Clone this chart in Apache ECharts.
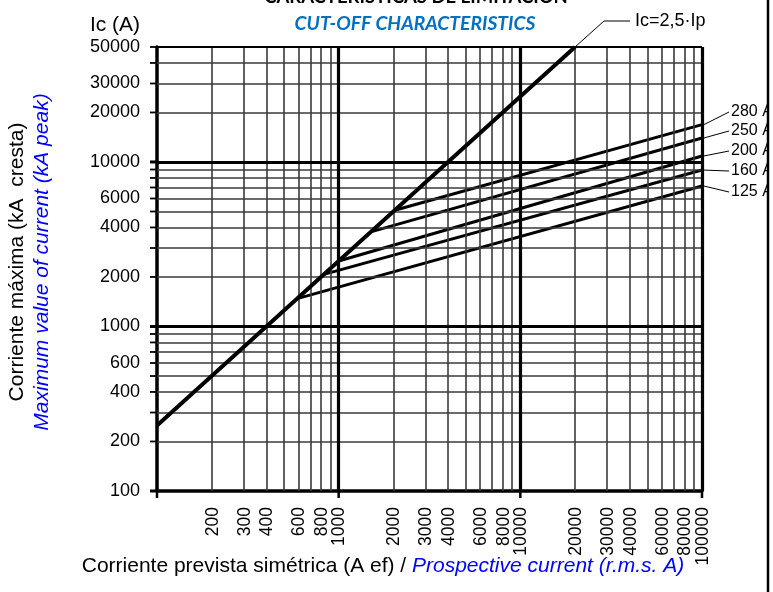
<!DOCTYPE html>
<html>
<head>
<meta charset="utf-8">
<script src="https://cdn.jsdelivr.net/npm/echarts@6/dist/echarts.min.js"></script>
<style>
  html, body { margin: 0; padding: 0; background: #fff; }
  #chart { width: 773px; height: 592px; }
</style>
</head>
<body>
<div id="chart"></div>
<script>
// Fuse cut-off characteristics: peak let-through current vs prospective current
const fuseRatings = ['125 A', '160 A', '200 A', '250 A', '280 A'];
const kneeCurrent = [591, 829, 1000, 1503, 2037];      // A r.m.s., where each curve leaves the 2.5·Ip line
const kneePeak = [1478, 2073, 2500, 3758, 5093];       // A peak at that point
const endCurrent = [100000, 100000, 100000, 100000, 100000];
const endPeak = [7140, 8930, 10880, 14000, 16880];     // A peak at 100 kA prospective
const limitCurrent = [100, 20000];                     // Ic = 2,5·Ip
const limitPeak = [250, 50000];

const xTickLabels = [200, 300, 400, 600, 800, 1000, 2000, 3000, 4000, 6000, 8000, 10000,
  20000, 30000, 40000, 60000, 80000, 100000];
const yTickLabels = [100, 200, 400, 600, 1000, 2000, 4000, 6000, 10000, 20000, 30000, 50000];
const xMinorLines = [200, 300, 400, 500, 600, 700, 800, 900, 2000, 3000, 4000, 5000, 6000, 7000,
  8000, 9000, 20000, 30000, 40000, 50000, 60000, 70000, 80000, 90000];
const xMajorLines = [1000, 10000];
const yMinorLines = [200, 300, 400, 500, 600, 700, 800, 900, 2000, 3000, 4000, 5000, 6000, 7000,
  8000, 9000, 20000, 30000, 40000];
const yMajorLines = [1000, 10000];
const yTickMarks = [100, 200, 300, 400, 500, 600, 700, 800, 900, 1000, 2000, 3000, 4000, 5000,
  6000, 7000, 8000, 9000, 10000, 20000, 30000, 40000, 50000];
const xTickMarks = [100, 1000, 10000, 100000];

const FONT = '"Liberation Sans", Arial, sans-serif';
const TITLE_FONT = 'Lato, "Open Sans", sans-serif';
const labelLayoutY = [192, 171, 151, 131, 112];   // rating labels on the right

const chart = echarts.init(document.getElementById('chart'), null, { renderer: 'canvas' });

const thin = { color: '#3a3a3a', width: 1.6, type: 'solid' };
const thick = { color: '#000', width: 3.2, type: 'solid' };

const gridMarks = []
  .concat(xMinorLines.map(v => ({ xAxis: v, lineStyle: thin })))
  .concat(yMinorLines.map(v => ({ yAxis: v, lineStyle: thin })))
  .concat(xMajorLines.map(v => ({ xAxis: v, lineStyle: thick })))
  .concat(yMajorLines.map(v => ({ yAxis: v, lineStyle: thick })))
  .concat([{ yAxis: 50000, lineStyle: { color: '#000', width: 2, type: 'solid' } },
           { xAxis: 100000, lineStyle: { color: '#000', width: 3.2, type: 'solid' } }]);

const series = [{
  type: 'line',
  data: [],
  silent: true,
  clip: false,
  z: 1,
  markLine: {
    silent: true,
    symbol: ['none', 'none'],
    label: { show: false },
    animation: false,
    lineStyle: { type: 'solid' },
    data: gridMarks
  }
}, {
  name: 'Ic=2,5·Ip',
  type: 'line',
  data: limitCurrent.map((x, i) => [x, limitPeak[i]]),
  showSymbol: false,
  lineStyle: { color: '#000', width: 4 },
  z: 5,
  clip: false
}];

fuseRatings.forEach((name, i) => {
  series.push({
    name,
    type: 'line',
    data: [[kneeCurrent[i], kneePeak[i]], [endCurrent[i], endPeak[i]]],
    showSymbol: false,
    lineStyle: { color: '#000', width: 3 },
    z: 4,
    clip: false
  });
});

chart.setOption({
  animation: false,
  backgroundColor: '#fff',
  grid: { left: 157, right: 71, top: 47, bottom: 101, containLabel: false },
  xAxis: {
    type: 'log', logBase: 10, min: 100, max: 100000,
    axisLine: { show: true, onZero: false, lineStyle: { color: '#000', width: 3.5 } },
    axisTick: { show: false }, axisLabel: { show: false },
    splitLine: { show: false }, minorSplitLine: { show: false }
  },
  yAxis: {
    type: 'log', logBase: 10, min: 100, max: 50000,
    axisLine: { show: true, onZero: false, lineStyle: { color: '#000', width: 3.5 } },
    axisTick: { show: false }, axisLabel: { show: false },
    splitLine: { show: false }, minorSplitLine: { show: false }
  },
  series
});

// Ticks, tick labels, titles and annotations placed through the axes' own scales
const toPx = (x, y) => chart.convertToPixel({ gridIndex: 0 }, [x, y]);
const g = [];

yTickMarks.forEach(v => {
  const p = toPx(100, v);
  const major = v === 1000 || v === 10000 || v === 100;
  g.push({ type: 'line', silent: true, z: 10,
    shape: { x1: p[0] - 7, y1: p[1], x2: p[0], y2: p[1] },
    style: { stroke: '#000', lineWidth: major ? 3 : 1.8 } });
});
yTickLabels.forEach(v => {
  const p = toPx(100, v);
  g.push({ type: 'text', silent: true, z: 10, x: 140, y: p[1],
    style: { text: String(v), font: '18px ' + FONT, fill: '#000', align: 'right', verticalAlign: 'middle' } });
});
xTickMarks.forEach(v => {
  const p = toPx(v, 100);
  g.push({ type: 'line', silent: true, z: 10,
    shape: { x1: p[0], y1: p[1], x2: p[0], y2: p[1] + 7 },
    style: { stroke: '#000', lineWidth: 2.5 } });
});
xTickLabels.forEach(v => {
  const p = toPx(v, 100);
  g.push({ type: 'text', silent: true, z: 10, x: p[0] + 1, y: p[1] + 16, rotation: Math.PI / 2,
    style: { text: String(v), font: '17.5px ' + FONT, fill: '#000', align: 'right', verticalAlign: 'middle' } });
});

// Rating labels with leader lines from the right edge of each curve
fuseRatings.forEach((name, i) => {
  const p = toPx(endCurrent[i], endPeak[i]);
  const ly = labelLayoutY[i];
  g.push({ type: 'polyline', silent: true, z: 10,
    shape: { points: [[p[0] + 2, p[1]], [729, ly]] },
    style: { stroke: '#000', lineWidth: 1, fill: null } });
  g.push({ type: 'text', silent: true, z: 10, x: 731, y: ly,
    style: { text: name, font: '16px ' + FONT, fill: '#000', align: 'left', verticalAlign: 'middle' } });
});

// Leader for the 2,5·Ip line
const limitTop = toPx(limitCurrent[1], limitPeak[1]);
g.push({ type: 'polyline', silent: true, z: 10,
  shape: { points: [[limitTop[0], limitTop[1]], [604, 21], [630, 21]] },
  style: { stroke: '#000', lineWidth: 1, fill: null } });
g.push({ type: 'text', silent: true, z: 10, x: 635, y: 21,
  style: { text: 'Ic=2,5·Ip', font: '18px ' + FONT, fill: '#000', align: 'left', verticalAlign: 'middle' } });

// Titles
g.push({ type: 'text', silent: true, z: 10, x: 416, y: -3,
  style: { text: 'CARACTERISTICAS DE LIMITACION', font: 'bold 18.5px ' + TITLE_FONT, fill: '#000',
    align: 'center', verticalAlign: 'middle' } });
g.push({ type: 'text', silent: true, z: 10, x: 415, y: 23.5,
  style: { text: 'CUT-OFF CHARACTERISTICS', font: 'italic bold 19.3px ' + TITLE_FONT, fill: '#0070c0',
    align: 'center', verticalAlign: 'middle' } });

// Axis names
g.push({ type: 'text', silent: true, z: 10, x: 115, y: 25,
  style: { text: 'Ic (A)', font: '21px ' + FONT, fill: '#000', align: 'center', verticalAlign: 'middle' } });
g.push({ type: 'text', silent: true, z: 10, x: 17, y: 262, rotation: Math.PI / 2,
  style: { text: 'Corriente máxima (kA  cresta)', font: '21px ' + FONT, fill: '#000',
    align: 'center', verticalAlign: 'middle' } });
g.push({ type: 'text', silent: true, z: 10, x: 42, y: 262, rotation: Math.PI / 2,
  style: { text: 'Maximum value of current (kA peak)', font: 'italic 21px ' + FONT, fill: '#0000ff',
    align: 'center', verticalAlign: 'middle' } });
g.push({ type: 'text', silent: true, z: 10, x: 383, y: 566,
  style: { text: '{a|Corriente prevista simétrica (A ef) / }{b|Prospective current (r.m.s. A)}',
    align: 'center', verticalAlign: 'middle',
    rich: {
      a: { font: '21px ' + FONT, fill: '#000' },
      b: { font: 'italic 21px ' + FONT, fill: '#0000ff' }
    } } });

// Page frame on the right, trimming the rating labels
g.push({ type: 'rect', silent: true, z: 20, shape: { x: 769, y: 0, width: 4, height: 592 },
  style: { fill: '#fff' } });
g.push({ type: 'line', silent: true, z: 21, shape: { x1: 768, y1: 0, x2: 768, y2: 592 },
  style: { stroke: '#000', lineWidth: 2.5 } });

chart.setOption({ graphic: { elements: g } });
</script>
</body>
</html>
